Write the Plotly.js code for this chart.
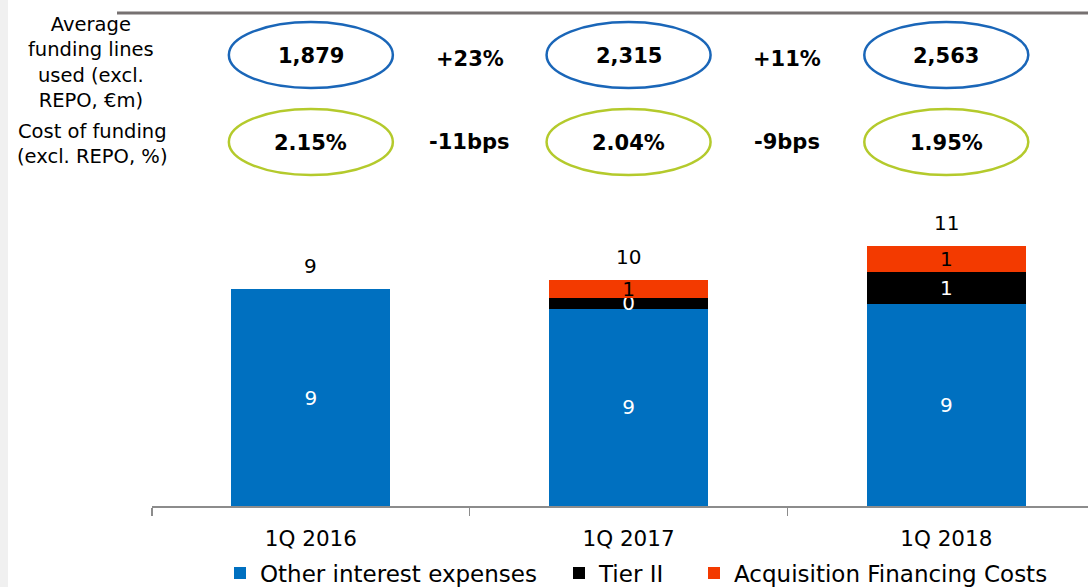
<!DOCTYPE html>
<html><head><meta charset="utf-8">
<script src="https://cdn.plot.ly/plotly-3.0.1.min.js"></script>
<style>html,body{margin:0;padding:0;background:#fff;}#chart{width:1088px;height:587px;}</style>
</head><body><div id="chart"></div>
<script>
// ---- data ----
const categories = ['1Q 2016', '1Q 2017', '1Q 2018'];
const otherInterest = [9.43, 8.57, 8.78];
const tierII = [null, 0.48, 1.39];
const acquisitionFinancing = [null, 0.78, 1.13];
const fundingLines = [1879, 2315, 2563];
const fundingChange = ['+23%', '+11%'];
const costOfFunding = [2.15, 2.04, 1.95];
const costChange = ['-11bps', '-9bps'];
const rowLabels = ['Average<br>funding lines<br>used (excl.<br>REPO, €m)', 'Cost of funding<br>(excl. REPO, %)'];
const seriesNames = ['Other interest expenses', 'Tier II', 'Acquisition Financing Costs'];

// ---- layout helpers ----
const W = 1088, H = 587;
const M = {l: 152, r: 0, t: 200, b: 81};
const PW = W - M.l - M.r, PH = H - M.t - M.b;
const px = x => (x - M.l) / PW;
const py = y => (H - M.b - y) / PH;
const FONT = 'DejaVu Sans, Verdana, sans-serif';
const BLUE = '#0070C0', BLACK = '#000000', ORANGE = '#F33A00';

const totals = otherInterest.map((v, i) => v + (tierII[i] || 0) + (acquisitionFinancing[i] || 0));

function barTrace(name, vals, color, textColor, legendId) {
  return {
    type: 'bar', name: name, x: categories, y: vals, legend: legendId,
    marker: {color: color, line: {width: 0}},
    texttemplate: '%{y:.0f}', textposition: 'inside', insidetextanchor: 'middle',
    textangle: 0, constraintext: 'none',
    insidetextfont: {family: FONT, size: 20, color: textColor},
    hoverinfo: 'skip', width: 0.5
  };
}

const data = [
  barTrace(seriesNames[0], otherInterest, BLUE, '#ffffff', 'legend'),
  barTrace(seriesNames[1], tierII, BLACK, '#ffffff', 'legend2'),
  barTrace(seriesNames[2], acquisitionFinancing, ORANGE, '#000000', 'legend3')
];

const annotations = [];
const shapes = [];

// left grey strip
shapes.push({type: 'rect', xref: 'paper', yref: 'paper', x0: px(0), x1: px(8), y0: py(H), y1: py(0),
  fillcolor: '#F0F0F0', line: {width: 0}, layer: 'below'});
// header rule
shapes.push({type: 'line', xref: 'paper', yref: 'paper', x0: px(117), x1: px(W + 5), y0: py(13), y1: py(13),
  line: {color: '#767171', width: 3}});

// row labels
annotations.push({xref: 'paper', yref: 'paper', x: px(91), y: py(62), text: rowLabels[0], showarrow: false,
  xanchor: 'center', yanchor: 'middle', font: {family: FONT, size: 19.5, color: '#000'}});
annotations.push({xref: 'paper', yref: 'paper', x: px(92), y: py(144), text: rowLabels[1], showarrow: false,
  xanchor: 'center', yanchor: 'middle', font: {family: FONT, size: 19.5, color: '#000'}});

const txt = (x, xref, y, yref, text, size, extra) => Object.assign({xref: xref, yref: yref, x: x, y: y, text: text,
  showarrow: false, xanchor: 'center', yanchor: 'middle', font: {family: FONT, size: size, color: '#000'}}, extra || {});

categories.forEach((c, i) => {
  shapes.push({type: 'circle', xref: 'x', xsizemode: 'pixel', xanchor: i, x0: -82, x1: 82,
    yref: 'paper', ysizemode: 'pixel', yanchor: py(55), y0: -33, y1: 33,
    line: {color: '#1A66B8', width: 2.5}});
  shapes.push({type: 'circle', xref: 'x', xsizemode: 'pixel', xanchor: i, x0: -82, x1: 82,
    yref: 'paper', ysizemode: 'pixel', yanchor: py(142), y0: -33, y1: 33,
    line: {color: '#B4CA2C', width: 2.5}});
  annotations.push(txt(i, 'x', py(56), 'paper', '<b>' + fundingLines[i].toLocaleString('en-US') + '</b>', 21));
  annotations.push(txt(i, 'x', py(143), 'paper', '<b>' + costOfFunding[i].toFixed(2) + '%</b>', 21));
  annotations.push(txt(c, 'x', totals[i], 'y', String(Math.round(totals[i])), 20, {yanchor: 'bottom', yshift: 9}));
});
fundingChange.forEach((t, i) => annotations.push(txt(i + 0.5, 'x', py(59), 'paper', '<b>' + t + '</b>', 21)));
costChange.forEach((t, i) => annotations.push(txt(i + 0.5, 'x', py(142), 'paper', '<b>' + t + '</b>', 21)));

const legendBase = (xpx) => ({orientation: 'h', xref: 'paper', x: px(xpx), xanchor: 'left',
  yref: 'container', y: (H - 573) / H, yanchor: 'middle',
  font: {family: FONT, size: 23, color: '#000'}, bgcolor: 'rgba(0,0,0,0)', borderwidth: 0});

const layout = {
  width: W, height: H, margin: M,
  paper_bgcolor: '#ffffff', plot_bgcolor: '#ffffff',
  barmode: 'stack', bargap: 0.5,
  font: {family: FONT, color: '#000'},
  showlegend: true,
  legend: legendBase(220),
  legend2: legendBase(559),
  legend3: legendBase(694),
  xaxis: {type: 'category', range: [-0.5, 2.446], showline: true, linecolor: '#8C8C8C', linewidth: 1.5,
    ticks: 'outside', tickson: 'boundaries', ticklen: 8, tickcolor: '#8C8C8C', tickwidth: 1.5,
    showgrid: false, zeroline: false, fixedrange: true, ticklabelstandoff: 13, automargin: false,
    tickfont: {family: FONT, size: 21.5, color: '#000'}},
  yaxis: {range: [0, PH / 23], visible: false, showgrid: false, zeroline: false, fixedrange: true, automargin: false},
  shapes: shapes, annotations: annotations
};

Plotly.newPlot('chart', data, layout, {displayModeBar: false, staticPlot: true});
</script>
</body></html>
